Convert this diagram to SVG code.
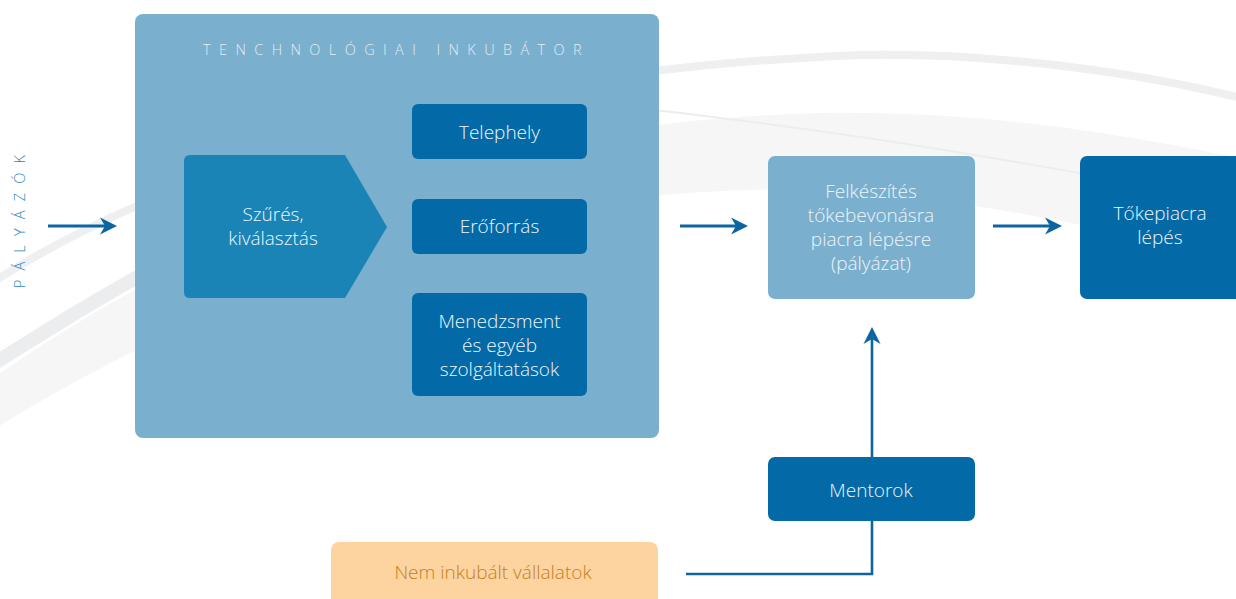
<svg xmlns="http://www.w3.org/2000/svg" width="1236" height="599" viewBox="0 0 1236 599">
<style>
  .lbl{font-family:"Open Sans","Noto Sans","Liberation Sans",sans-serif;font-size:19px;font-weight:300;fill:#eef5fa;text-anchor:middle}
  .dark{fill:#036aa7}
  .light{fill:#7aafce}
  .conn{fill:none;stroke:#0b65a1;stroke-width:3}
  .cap{font-family:"Open Sans","Noto Sans","Liberation Sans",sans-serif;font-size:14.5px;font-weight:300;letter-spacing:8.4px}
</style>
<defs>
  <marker id="ah" viewBox="-28 -10 30 20" markerWidth="30" markerHeight="20" refX="-10" refY="0" orient="auto" markerUnits="userSpaceOnUse">
    <path d="M0,0 L-17,-8.5 L-12,0 L-17,8.5 Z" fill="#0b65a1"/>
  </marker>
</defs>
<rect width="1236" height="599" fill="#ffffff"/>
<g id="background">
  <path d="M-10,380 C150,270 400,125 820,113 C1000,110 1150,140 1240,158 L1240,262 C1150,240 1000,200 820,190 C500,180 200,300 -10,432 Z" fill="#f6f6f7"/>
  <path d="M-10,284 C150,180 450,70 860,55 C1000,52 1150,75 1240,98" fill="none" stroke="#eeeff1" stroke-width="8"/>
  <path d="M-10,366 C60,322 120,284 200,244" fill="none" stroke="#ecedef" stroke-width="14"/>
  <path d="M600,104 C800,125 950,150 1090,175" fill="none" stroke="#ecedef" stroke-width="2"/>
</g>
<g id="connectors">
  <path class="conn" d="M48,226 H107" marker-end="url(#ah)"/>
  <path class="conn" d="M680,226 H738" marker-end="url(#ah)"/>
  <path class="conn" d="M993,226 H1052" marker-end="url(#ah)"/>
  <path class="conn" style="stroke-width:2.6" d="M686,574 H872 V337" marker-end="url(#ah)"/>
</g>
<g id="palyazok">
  <text class="cap" transform="translate(25,217) rotate(-90)" text-anchor="middle" fill="#2a84bd" style="letter-spacing:9.2px">PÁLYÁZÓK</text>
</g>
<g id="inkubator">
  <rect x="135" y="14" width="524" height="424" rx="8" class="light"/>
  <text class="cap" x="203" y="55" fill="#e0edf5">TENCHNOLÓGIAI INKUBÁTOR</text>
</g>
<g id="szures">
  <path d="M190,155 H345 L387,227 L345,298 H190 Q184,298 184,292 V161 Q184,155 190,155 Z" fill="#1b84b6"/>
  <text class="lbl" x="273" y="221">Szűrés,</text>
  <text class="lbl" x="273" y="245">kiválasztás</text>
</g>
<g id="telephely">
  <rect x="412" y="104" width="175" height="55" rx="6" class="dark"/>
  <text class="lbl" x="499.5" y="139">Telephely</text>
</g>
<g id="eroforras">
  <rect x="412" y="199" width="175" height="55" rx="6" class="dark"/>
  <text class="lbl" x="499.5" y="233">Erőforrás</text>
</g>
<g id="menedzsment">
  <rect x="412" y="293" width="175" height="103" rx="6" class="dark"/>
  <text class="lbl" x="499.5" y="328">Menedzsment</text>
  <text class="lbl" x="499.5" y="352">és egyéb</text>
  <text class="lbl" x="499.5" y="376">szolgáltatások</text>
</g>
<g id="felkeszites">
  <rect x="768" y="156" width="207" height="143" rx="7" class="light"/>
  <text class="lbl" x="871" y="198">Felkészítés</text>
  <text class="lbl" x="871" y="222">tőkebevonásra</text>
  <text class="lbl" x="871" y="246">piacra lépésre</text>
  <text class="lbl" x="871" y="270">(pályázat)</text>
</g>
<g id="tokepiacra">
  <rect x="1080" y="156" width="180" height="143" rx="7" class="dark"/>
  <text class="lbl" x="1160" y="220">Tőkepiacra</text>
  <text class="lbl" x="1160" y="244">lépés</text>
</g>
<g id="mentorok">
  <rect x="768" y="457" width="207" height="64" rx="7" class="dark"/>
  <text class="lbl" x="871" y="497">Mentorok</text>
</g>
<g id="nem-inkubalt">
  <rect x="331" y="542" width="327" height="80" rx="8" fill="#fdd4a0"/>
  <text class="lbl" x="493" y="579" style="fill:#c47f24">Nem inkubált vállalatok</text>
</g>
</svg>
